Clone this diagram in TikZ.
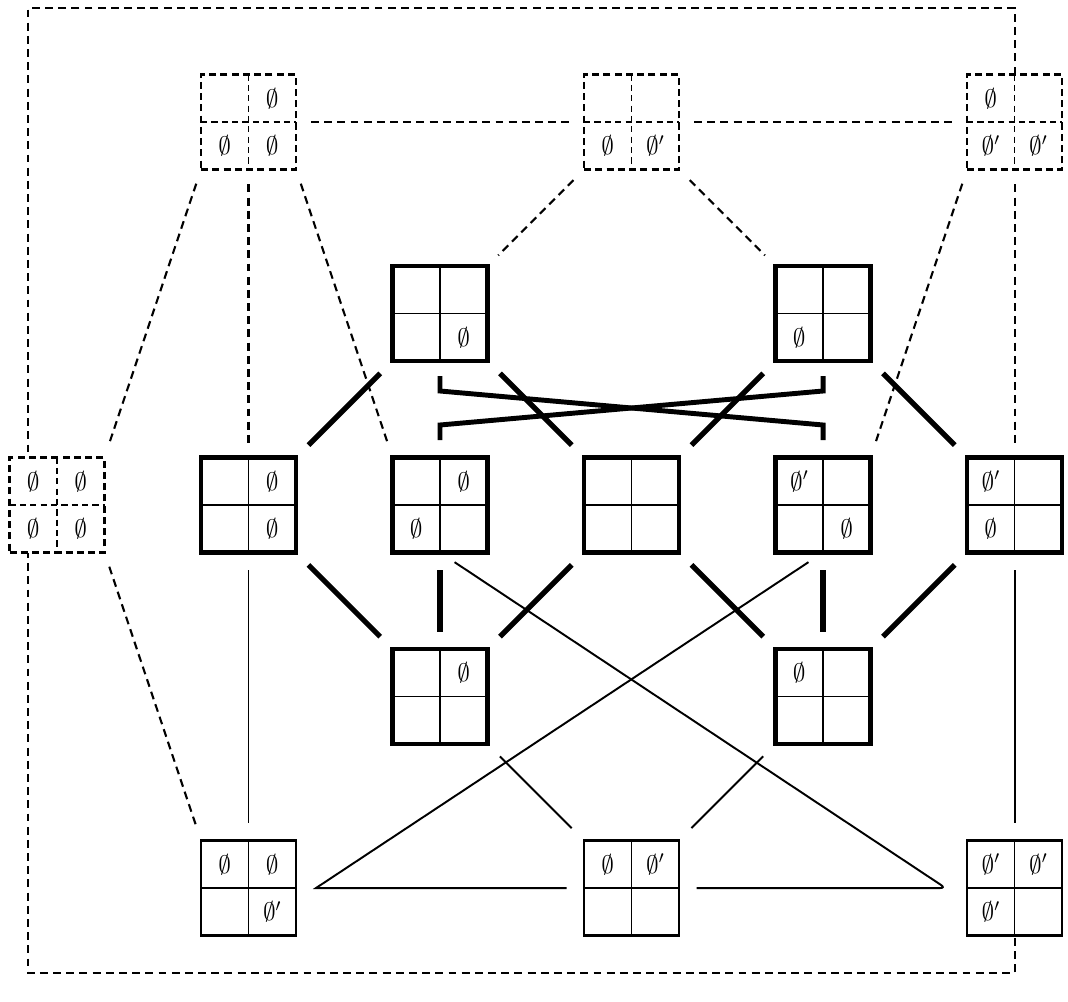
\documentclass[tikz,border=0pt]{standalone}
\usepackage{amsmath}
\usepackage{tikz}
\usetikzlibrary{backgrounds}
\newcommand{\zz}{$\emptyset$}
\newcommand{\zp}{$\emptyset'$}
% one square of four cells: style, name, position, then the cells row by row
\newcommand{\sqnode}[7]{%
  \node[#1] (#2) at (#3) {};
  \draw[#1in] (#2.north) -- (#2.south) (#2.west) -- (#2.east);
  \node[mk] at ([shift={(-4.75mm,4.75mm)}]#2.center) {#4};
  \node[mk] at ([shift={(4.75mm,4.75mm)}]#2.center) {#5};
  \node[mk] at ([shift={(-4.75mm,-4.75mm)}]#2.center) {#6};
  \node[mk] at ([shift={(4.75mm,-4.75mm)}]#2.center) {#7};
}

\begin{document}
\begin{tikzpicture}[x=3.83cm, y=-3.83cm,
    sq/.style={draw, fill=white, line width=2.4pt, minimum size=1.9cm, inner sep=0pt, outer sep=0pt},
    sqin/.style={line width=1pt},
    lsq/.style={sq, line width=1.5pt},
    lsqin/.style={line width=1pt},
    dsq/.style={sq, line width=1.4pt, dash pattern=on 4pt off 2.4pt},
    dsqin/.style={line width=1pt, dash pattern=on 3.5pt off 2.4pt},
    mk/.style={font=\Large, inner sep=0pt},
    hv/.style={line width=3pt, shorten <=0.35cm, shorten >=0.35cm},
    ln/.style={line width=1.1pt, shorten <=0.35cm, shorten >=0.35cm},
    dl/.style={line width=1.2pt, dash pattern=on 4.5pt off 3pt, shorten <=0.3cm, shorten >=0.3cm},
    fr/.style={line width=1.2pt, dash pattern=on 4.5pt off 3pt},
    xl/.style={line width=2.8pt, shorten <=0.3cm, shorten >=0.35cm},
    ko/.style={white, line width=10pt}]
  \useasboundingbox (-0.2977,-0.637) rectangle (5.279,4.595);

  \sqnode{dsq}{top1}{1,0}{}{\zz}{\zz}{\zz}
  \sqnode{dsq}{top2}{3,0}{}{}{\zz}{\zp}
  \sqnode{dsq}{top3}{5,0}{\zz}{}{\zp}{\zp}
  \sqnode{sq}{up1}{2,1}{}{}{}{\zz}
  \sqnode{sq}{up2}{4,1}{}{}{\zz}{}
  \sqnode{dsq}{mid0}{0,2}{\zz}{\zz}{\zz}{\zz}
  \sqnode{sq}{mid1}{1,2}{}{\zz}{}{\zz}
  \sqnode{sq}{mid2}{2,2}{}{\zz}{\zz}{}
  \sqnode{sq}{mid3}{3,2}{}{}{}{}
  \sqnode{sq}{mid4}{4,2}{\zp}{}{}{\zz}
  \sqnode{sq}{mid5}{5,2}{\zp}{}{\zz}{}
  \sqnode{sq}{low1}{2,3}{}{\zz}{}{}
  \sqnode{sq}{low2}{4,3}{\zz}{}{}{}
  \sqnode{lsq}{bot1}{1,4}{\zz}{\zz}{}{\zp}
  \sqnode{lsq}{bot2}{3,4}{\zz}{\zp}{}{}
  \sqnode{lsq}{bot3}{5,4}{\zp}{\zp}{\zp}{}

  \coordinate (ftl) at (-0.151,-0.595);
  \coordinate (fbl) at (-0.151,4.444);
  \coordinate (nx) at ([xshift=4mm]bot1.east);
  \coordinate (cusp) at (4.64,4);
  \begin{scope}[on background layer]
    \draw[fr] (top3.north) |- (ftl) -- (fbl) -| (bot3.south);
  \end{scope}

  % dashed
  \draw[dl] (top1) -- (top2);
  \draw[dl] (top2) -- (top3);
  \draw[dl] (top1.south west) -- (mid0.north east);
  \draw[dl] (top1) -- (mid1);
  \draw[dl] (top1.south east) -- (mid2.north west);
  \draw[dl] (top2.south west) -- (up1.north east);
  \draw[dl] (top2.south east) -- (up2.north west);
  \draw[dl] (top3.south west) -- (mid4.north east);
  \draw[dl] (top3) -- (mid5);
  \draw[dl] (mid0.south east) -- (bot1.north west);

  % heavy
  \draw[hv] (up1.south west) -- (mid1.north east);
  \draw[hv] (up1.south east) -- (mid3.north west);
  \draw[hv] (up2.south west) -- (mid3.north east);
  \draw[hv] (up2.south east) -- (mid5.north west);
  \draw[hv] (mid1.south east) -- (low1.north west);
  \draw[hv] (mid2) -- (low1);
  \draw[hv] (mid3.south west) -- (low1.north east);
  \draw[hv] (mid3.south east) -- (low2.north west);
  \draw[hv] (mid4) -- (low2);
  \draw[hv] (mid5.south west) -- (low2.north east);

  % crossing pair
  \path[ko] ([yshift=-6mm]up1.south) -- ([yshift=6.5mm]mid4.north);
  \path[ko] ([yshift=-6mm]up2.south) -- ([yshift=6.5mm]mid2.north);
  \draw[xl] (up1.south) -- ([yshift=-6mm]up1.south) -- ([yshift=6.5mm]mid4.north) -- (mid4.north);
  \draw[xl] (up2.south) -- ([yshift=-6mm]up2.south) -- ([yshift=6.5mm]mid2.north) -- (mid2.north);

  % thin
  \draw[ln] (mid1) -- (bot1);
  \draw[ln] (mid5) -- (bot3);
  \draw[ln] (low1.south east) -- (bot2.north west);
  \draw[ln] (low2.south west) -- (bot2.north east);
  \draw[ln] (bot2.west) -- (nx) -- (mid4.south);
  \draw[ln, rounded corners=3pt] (bot2.east) -- (cusp) -- (mid2.south);
\end{tikzpicture}
\end{document}
